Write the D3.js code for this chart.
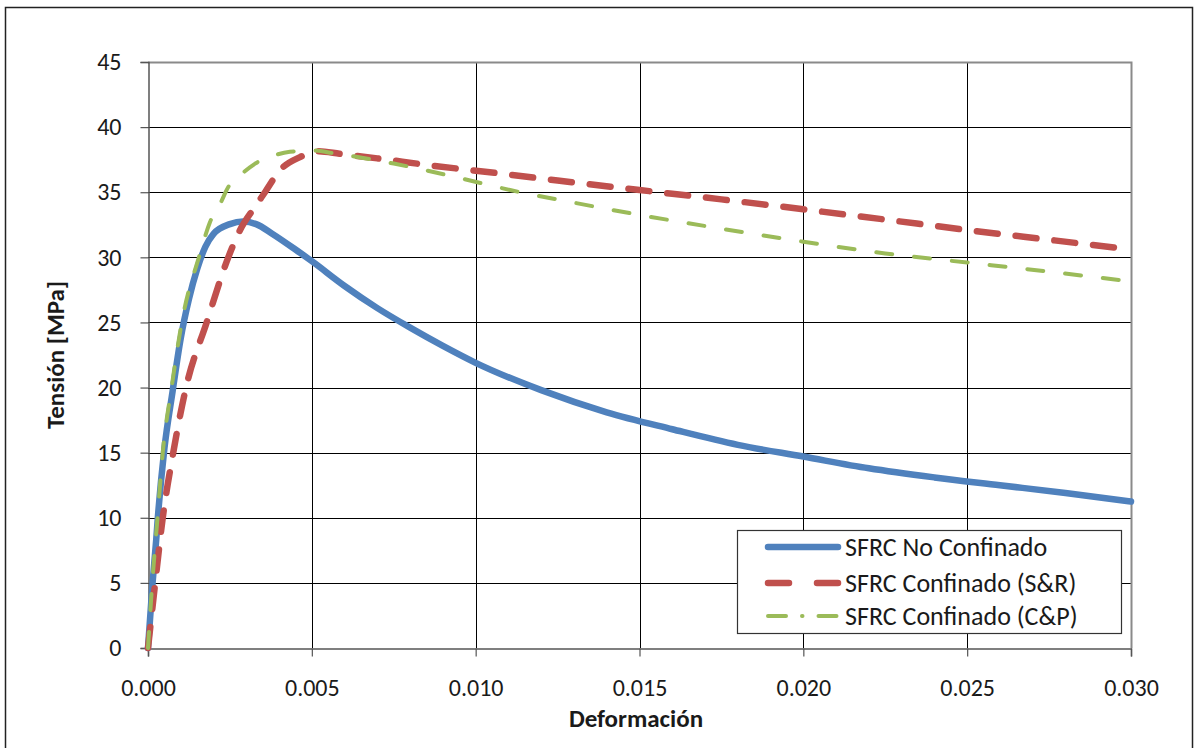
<!DOCTYPE html>
<html><head><meta charset="utf-8">
<script src="https://cdn.jsdelivr.net/npm/d3@7"></script>
<style>
html,body{margin:0;padding:0;background:#fff;}
svg{display:block;}
text{font-family:Carlito,Calibri,Lato,"Open Sans",sans-serif;fill:#1a1a1a;}
</style></head>
<body>
<svg id="chart" width="1197" height="748"></svg>
<script>
// ---- data ----
const xTicks = [0, 0.005, 0.010, 0.015, 0.020, 0.025, 0.030];
const yTicks = [0, 5, 10, 15, 20, 25, 30, 35, 40, 45];
const seriesNames = ["SFRC No Confinado", "SFRC Confinado (S&R)", "SFRC Confinado (C&P)"];

const strainNoConf = [0, 0.00014, 0.00025, 0.0003, 0.0005, 0.00075, 0.001, 0.00125, 0.0015, 0.00175, 0.002, 0.0025, 0.0029, 0.0033, 0.0038, 0.0045, 0.005, 0.006, 0.007, 0.008, 0.009, 0.010, 0.012, 0.014, 0.016, 0.018, 0.020, 0.022, 0.024, 0.026, 0.028, 0.030];
const stressNoConf = [0, 5, 8.3, 10, 15.3, 19.7, 23.8, 26.8, 29.1, 30.8, 31.8, 32.55, 32.75, 32.55, 31.8, 30.6, 29.7, 27.8, 26.1, 24.6, 23.2, 21.9, 19.8, 18.1, 16.8, 15.6, 14.7, 13.8, 13.1, 12.5, 11.9, 11.25];

const strainSR = [0, 0.00022, 0.00045, 0.00077, 0.00116, 0.00179, 0.00245, 0.00281, 0.00327, 0.00357, 0.00403, 0.00464, 0.0052, 0.00586, 0.007, 0.0085, 0.0107, 0.0125, 0.015, 0.0175, 0.020, 0.0225, 0.025, 0.0275, 0.030];
const stressSR = [0, 5, 10, 15, 20, 25, 30, 32.1, 33.9, 35, 36.7, 37.7, 38.15, 37.95, 37.6, 37.1, 36.45, 35.9, 35.17, 34.45, 33.69, 32.9, 32.1, 31.35, 30.6];

const strainCP = [0, 0.00013, 0.00029, 0.00045, 0.00072, 0.00103, 0.00159, 0.00189, 0.0022, 0.00245, 0.00286, 0.00327, 0.00382, 0.00433, 0.00505, 0.00566, 0.0075, 0.0095, 0.01105, 0.013, 0.01502, 0.0175, 0.020, 0.0225, 0.025, 0.0275, 0.030];
const stressCP = [0, 5, 10, 15, 20, 25, 30.3, 32.7, 34.1, 35.4, 36.4, 37.2, 37.8, 38.1, 38.2, 38.0, 37.2, 36.1, 35.17, 34.2, 33.25, 32.2, 31.2, 30.3, 29.6, 28.9, 28.15];

// ---- layout ----
const svg = d3.select("#chart");
const L = 148, R = 1131, T = 62, B = 648;
const x = d3.scaleLinear().domain([0, 0.03]).range([L, R]);
const y = d3.scaleLinear().domain([0, 45]).range([B, T]);

// outer chart border
svg.append("rect").attr("x", 5.5).attr("y", 7.5).attr("width", 1187).attr("height", 760)
  .attr("fill", "none").attr("stroke", "#222").attr("stroke-width", 1.5);

// gridlines
svg.append("g").selectAll("line").data(yTicks.filter(d => d > 0 && d < 45)).join("line")
  .attr("x1", L).attr("x2", R).attr("y1", d => Math.round(y(d)) + 0.5).attr("y2", d => Math.round(y(d)) + 0.5)
  .attr("stroke", "#000").attr("stroke-width", 1);
svg.append("g").selectAll("line").data(xTicks.filter(d => d > 0 && d < 0.03)).join("line")
  .attr("y1", T).attr("y2", B).attr("x1", d => Math.round(x(d)) + 0.5).attr("x2", d => Math.round(x(d)) + 0.5)
  .attr("stroke", "#000").attr("stroke-width", 1);

// plot border (top & right)
svg.append("path").attr("d", `M${L},${T + 0.5}H${R + 0.5}V${B}`)
  .attr("fill", "none").attr("stroke", "#8a8a8a").attr("stroke-width", 2);

// axes
const fontSize = 24;
const yAxis = svg.append("g").attr("transform", `translate(${L + 0.5},0)`)
  .call(d3.axisLeft(y).tickValues(yTicks).tickSize(8).tickPadding(19).tickFormat(d3.format("d")));
const xAxis = svg.append("g").attr("transform", `translate(0,${B + 0.5})`)
  .call(d3.axisBottom(x).tickValues(xTicks).tickSize(8).tickPadding(22).tickFormat(d3.format(".3f")));
[yAxis, xAxis].forEach(g => {
  g.select(".domain").attr("stroke", "#555").attr("stroke-width", 1.5);
  g.selectAll(".tick line").attr("stroke", "#555").attr("stroke-width", 1.2);
  g.selectAll(".tick text").attr("font-size", fontSize).attr("fill", "#1a1a1a")
   .style("font-family", "Carlito,Calibri,Lato,sans-serif");
});

// axis titles
svg.append("text").attr("x", 636).attr("y", 727).attr("text-anchor", "middle")
  .attr("font-size", 25).attr("font-weight", "bold").text("Deformación");
svg.append("text").attr("transform", `translate(64,${(T + B) / 2}) rotate(-90)`).attr("text-anchor", "middle")
  .attr("font-size", 25).attr("font-weight", "bold").text("Tensión [MPa]");

// series
const line = d3.line().x(d => x(d[0])).y(d => y(d[1])).curve(d3.curveMonotoneX);
const styles = [
  {color: "#4F81BD", width: 6.5, dash: null, legendDash: null},
  {color: "#C0504D", width: 6.5, dash: "21,18", legendDash: "21,28"},
  {color: "#9BBB59", width: 4, dash: "16,22", legendDash: "18,16,0.5,16"}
];
const seriesData = [
  d3.zip(strainNoConf, stressNoConf),
  d3.zip(strainSR, stressSR),
  d3.zip(strainCP, stressCP)
];
seriesData.forEach((data, i) => {
  const s = styles[i];
  svg.append("path").datum(data).attr("d", line)
    .attr("fill", "none").attr("stroke", s.color).attr("stroke-width", s.width)
    .attr("stroke-linecap", "round").attr("stroke-linejoin", "round")
    .attr("stroke-dasharray", s.dash);
});

// legend
const lg = svg.append("g");
lg.append("rect").attr("x", 737.5).attr("y", 530.5).attr("width", 384).attr("height", 103)
  .attr("fill", "#fff").attr("stroke", "#333").attr("stroke-width", 1.2);
const rowsY = [547, 583, 616];
seriesNames.forEach((name, i) => {
  const s = styles[i];
  lg.append("line").attr("x1", 768).attr("x2", 838).attr("y1", rowsY[i]).attr("y2", rowsY[i])
    .attr("stroke", s.color).attr("stroke-width", s.width).attr("stroke-linecap", "round")
    .attr("stroke-dasharray", s.legendDash);
  lg.append("text").attr("x", 845).attr("y", rowsY[i]).attr("dy", "0.35em")
    .attr("font-size", 26).text(name);
});
</script>
</body></html>
